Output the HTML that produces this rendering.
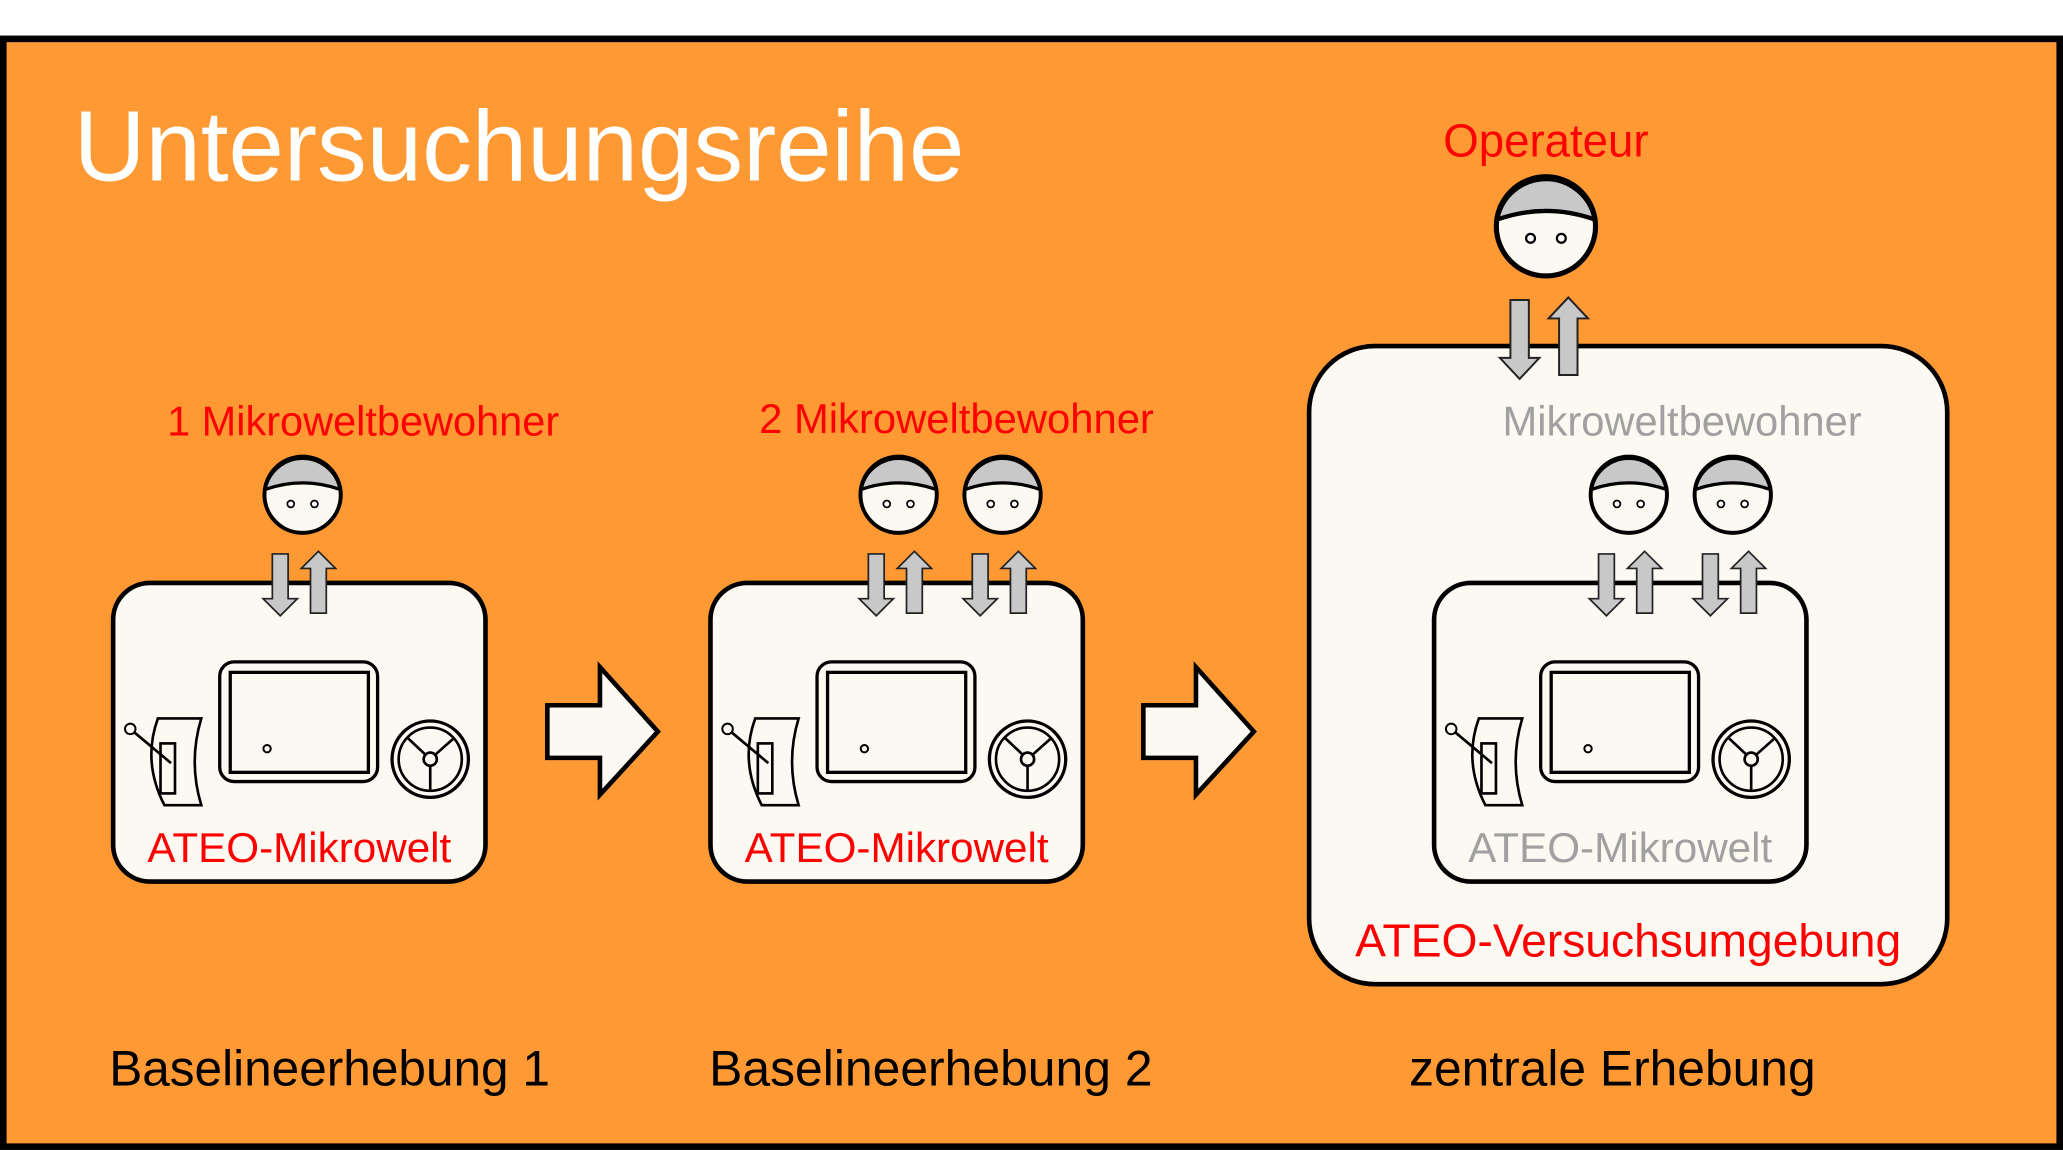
<!DOCTYPE html>
<html><head><meta charset="utf-8"><style>html,body{margin:0;padding:0;background:#fff}svg{display:block}text{font-family:"Liberation Sans",sans-serif}</style></head><body>
<svg width="2063" height="1150" viewBox="0 0 1568 874" xmlns="http://www.w3.org/2000/svg">
<defs>
<g id="head">
<circle cx="0" cy="0" r="29" fill="#fcf8f2"/>
<path d="M-28.5,-4 A29,29 0 0 1 28.5,-4 Q0,-14 -28.5,-4 Z" fill="#c8c8c8" stroke="#000" stroke-width="2.5"/>
<circle cx="0" cy="0" r="29" fill="none" stroke="#000" stroke-width="3"/>
<circle cx="-9" cy="7" r="2.6" fill="#fff" stroke="#000" stroke-width="1.3"/>
<circle cx="9" cy="7" r="2.6" fill="#fff" stroke="#000" stroke-width="1.3"/>
</g>
<g id="arr">
<polygon points="-23,45 -11,45 -11,79 -4,79 -17,92 -30,79 -23,79" fill="#c8c8c8" stroke="#222" stroke-width="1.3"/>
<polygon points="6,90 18,90 18,56 25,56 12,43 -1,56 6,56" fill="#c8c8c8" stroke="#222" stroke-width="1.3"/>
</g>
<g id="dev">
<rect x="167" y="503" width="120" height="91" rx="11" fill="none" stroke="#000" stroke-width="2.5"/>
<rect x="175" y="511" width="105" height="76" fill="none" stroke="#000" stroke-width="2.5"/>
<circle cx="203" cy="569" r="2.8" fill="none" stroke="#000" stroke-width="1.5"/>
<circle cx="327" cy="577" r="29" fill="none" stroke="#000" stroke-width="2.5"/>
<circle cx="327" cy="577" r="24" fill="none" stroke="#000" stroke-width="2"/>
<line x1="327" y1="577" x2="310" y2="561" stroke="#000" stroke-width="2"/>
<line x1="327" y1="577" x2="345" y2="561" stroke="#000" stroke-width="2"/>
<line x1="327" y1="577" x2="327" y2="600" stroke="#000" stroke-width="2"/>
<circle cx="327" cy="577" r="5" fill="#fcf8f2" stroke="#000" stroke-width="2"/>
<path d="M120,546 L153,546 Q143,579 153,612 L125,612 Q108,579 120,546 Z" fill="none" stroke="#000" stroke-width="2"/>
<rect x="122" y="565" width="11" height="38" fill="none" stroke="#000" stroke-width="2"/>
<line x1="99" y1="554" x2="130" y2="580" stroke="#000" stroke-width="2"/>
<circle cx="99" cy="554" r="4" fill="#fcf8f2" stroke="#000" stroke-width="1.5"/>
</g>
<g id="box">
<rect x="86" y="443" width="283" height="227" rx="28" fill="#fcf8f2" stroke="#000" stroke-width="3.5"/>
<use href="#dev"/>
</g>
<polygon id="big" points="416,536 456,536 456,507 500,556 456,604 456,576 416,576" fill="#fcf8f2" stroke="#000" stroke-width="3.5"/>
</defs>
<rect x="0" y="0" width="1568" height="874" fill="#fff"/>
<rect x="2.5" y="29.5" width="1563" height="842" fill="#ff9933" stroke="#000" stroke-width="5"/>
<text x="56" y="137" font-size="76" fill="#fff" textLength="677" lengthAdjust="spacingAndGlyphs">Untersuchungsreihe</text>

<use href="#box"/>
<use href="#head" x="230" y="376"/>
<use href="#arr" x="230" y="376"/>
<text x="127" y="331" font-size="31.5" fill="#f00" textLength="298" lengthAdjust="spacingAndGlyphs">1 Mikroweltbewohner</text>
<text x="112" y="655" font-size="32" fill="#f00" textLength="231" lengthAdjust="spacingAndGlyphs">ATEO-Mikrowelt</text>
<use href="#big"/>

<use href="#box" x="454"/>
<use href="#head" x="683" y="376"/>
<use href="#arr" x="683" y="376"/>
<use href="#head" x="762" y="376"/>
<use href="#arr" x="762" y="376"/>
<text x="577" y="329" font-size="31.5" fill="#f00" textLength="300" lengthAdjust="spacingAndGlyphs">2 Mikroweltbewohner</text>
<text x="566" y="655" font-size="32" fill="#f00" textLength="231" lengthAdjust="spacingAndGlyphs">ATEO-Mikrowelt</text>
<use href="#big" x="453"/>

<rect x="995" y="263" width="485" height="485" rx="50" fill="#fcf8f2" stroke="#000" stroke-width="3.5"/>
<use href="#box" x="1004"/>
<use href="#head" x="1238" y="376"/>
<use href="#arr" x="1238" y="376"/>
<use href="#head" x="1317" y="376"/>
<use href="#arr" x="1317" y="376"/>
<text x="1142" y="331" font-size="32" fill="#a0a0a0" textLength="273" lengthAdjust="spacingAndGlyphs">Mikroweltbewohner</text>
<text x="1116" y="655" font-size="32" fill="#a0a0a0" textLength="231" lengthAdjust="spacingAndGlyphs">ATEO-Mikrowelt</text>
<text x="1030" y="727" font-size="35" fill="#f00" textLength="415" lengthAdjust="spacingAndGlyphs">ATEO-Versuchsumgebung</text>
<g transform="translate(1175,172) scale(1.3)"><use href="#head"/></g>
<polygon points="1148,228 1162,228 1162,272 1170,272 1155,288 1140,272 1148,272" fill="#c8c8c8" stroke="#222" stroke-width="1.5"/>
<polygon points="1185,285 1199,285 1199,242 1207,242 1192,226 1177,242 1185,242" fill="#c8c8c8" stroke="#222" stroke-width="1.5"/>
<text x="1097" y="119" font-size="35" fill="#f00" textLength="156" lengthAdjust="spacingAndGlyphs">Operateur</text>

<text x="83" y="825" font-size="38" fill="#000" textLength="335" lengthAdjust="spacingAndGlyphs">Baselineerhebung 1</text>
<text x="539" y="825" font-size="38" fill="#000" textLength="337" lengthAdjust="spacingAndGlyphs">Baselineerhebung 2</text>
<text x="1071" y="825" font-size="38" fill="#000" textLength="309" lengthAdjust="spacingAndGlyphs">zentrale Erhebung</text>
</svg>
</body></html>
